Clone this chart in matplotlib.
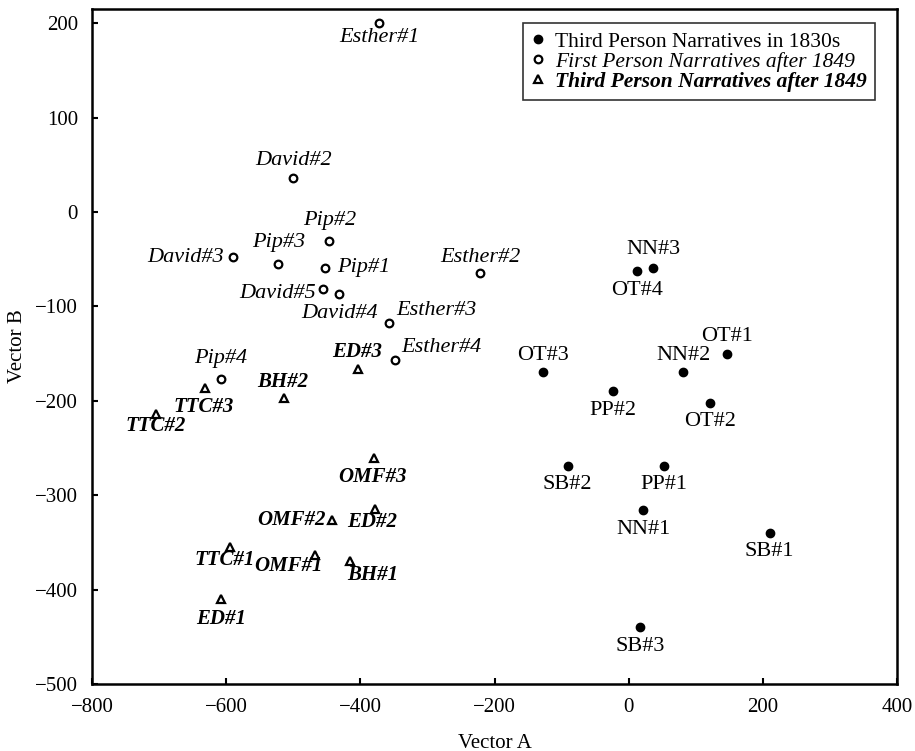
import matplotlib
matplotlib.use("Agg")
import matplotlib.pyplot as plt
from matplotlib.lines import Line2D

plt.rcParams['font.family'] = ['Liberation Serif', 'DejaVu Serif']

# Third person narratives in the 1830s (filled circles)
early_names = ["OT#1", "OT#2", "OT#3", "OT#4", "NN#1", "NN#2", "NN#3",
               "PP#1", "PP#2", "SB#1", "SB#2", "SB#3"]
early_x = [146, 121, -128, 13, 22, 81, 37, 53, -23, 210, -91, 17]
early_y = [-150, -202, -170, -63, -316, -170, -59, -269, -190, -340, -269, -440]

# First person narratives after 1849 (open circles)
first_names = ["Esther#1", "Esther#2", "Esther#3", "Esther#4", "David#2",
               "David#3", "David#4", "David#5", "Pip#1", "Pip#2", "Pip#3", "Pip#4"]
first_x = [-372, -221, -357, -349, -500, -590, -432, -455, -452, -446, -523, -608]
first_y = [200, -65, -118, -157, 36, -48, -87, -82, -59, -31, -55, -177]

# Third person narratives after 1849 (triangles)
late_names = ["ED#1", "ED#2", "ED#3", "BH#1", "BH#2", "TTC#1", "TTC#2",
              "TTC#3", "OMF#1", "OMF#2", "OMF#3"]
late_x = [-608, -378, -404, -415, -514, -594, -705, -632, -468, -442, -379]
late_y = [-410, -315, -166, -370, -197, -355, -214, -186, -363, -326, -261]

legend_labels = ["Third Person Narratives in 1830s",
                 "First Person Narratives after 1849",
                 "Third Person Narratives after 1849"]

# where each label sits next to its point: (dx, dy in pixels, ha)
place = {
    "OT#1": (0, 17, "center"), "OT#2": (0, -19, "center"),
    "OT#3": (0, 17, "center"), "OT#4": (0, -19, "center"),
    "NN#1": (0, -19, "center"), "NN#2": (0, 17, "center"),
    "NN#3": (0, 18, "center"), "PP#1": (0, -19, "center"),
    "PP#2": (0, -19, "center"), "SB#1": (0, -19, "center"),
    "SB#2": (0, -19, "center"), "SB#3": (0, -19, "center"),
    "Esther#1": (0, -14, "center"), "Esther#2": (0, 16, "center"),
    "Esther#3": (7, 13, "left"), "Esther#4": (7, 13, "left"),
    "David#2": (0, 17, "center"), "David#3": (-9, 0, "right"),
    "David#4": (1, -19, "center"), "David#5": (-8, -4, "right"),
    "Pip#1": (12, 0, "left"), "Pip#2": (0, 21, "center"),
    "Pip#3": (1, 21, "center"), "Pip#4": (0, 21, "center"),
    "ED#1": (0, -20, "center"), "ED#2": (-3, -13, "center"),
    "ED#3": (0, 17, "center"), "BH#1": (-3, -14, "left"),
    "BH#2": (-1, 16, "center"), "TTC#1": (-6, -13, "center"),
    "TTC#2": (0, -12, "center"), "TTC#3": (-1, -19, "center"),
    "OMF#1": (8, -11, "right"), "OMF#2": (-6, 0, "right"),
    "OMF#3": (-2, -19, "center"),
}

fig = plt.figure(figsize=(9.15, 7.51), dpi=100)
ax = fig.add_axes([92 / 915, 1 - 684 / 751, 805 / 915, 675 / 751])

ax.plot(early_x, early_y, 'o', color='black', markersize=6, zorder=3)
ax.plot(first_x, first_y, 'o', markerfacecolor='white', markeredgecolor='black',
        markeredgewidth=1.6, markersize=5.5, zorder=3)
ax.plot(late_x, late_y, '^', markerfacecolor='white', markeredgecolor='black',
        markeredgewidth=1.6, markersize=6, zorder=3)

px = 72 / 100.0


def put_labels(names, xs, ys, style, weight, size):
    for n, x, y in zip(names, xs, ys):
        dx, dy, ha = place[n]
        ax.annotate(n, (x, y), xytext=(dx * px, dy * px), textcoords='offset points',
                    ha=ha, va='center', fontsize=size, style=style, fontweight=weight)


put_labels(early_names, early_x, early_y, 'normal', 'normal', 16)
put_labels(first_names, first_x, first_y, 'italic', 'normal', 16)
put_labels(late_names, late_x, late_y, 'italic', 'bold', 15)

ax.set_xlim(-800, 400)
ax.set_ylim(-500, 215)
ax.set_xticks([-800, -600, -400, -200, 0, 200, 400])
ax.set_yticks([-500, -400, -300, -200, -100, 0, 100, 200])
ax.tick_params(direction='in', length=4, width=1.5, labelsize=15)
ax.tick_params(axis='x', pad=10)
ax.tick_params(axis='y', pad=10)
for s in ax.spines.values():
    s.set_linewidth(1.8)

ax.set_xlabel("Vector A", fontsize=15, labelpad=12)
ax.set_ylabel("Vector B", fontsize=15, labelpad=6)

handles = [
    Line2D([], [], ls='none', marker='o', color='black', markersize=6),
    Line2D([], [], ls='none', marker='o', markerfacecolor='white',
           markeredgecolor='black', markeredgewidth=1.6, markersize=5.5),
    Line2D([], [], ls='none', marker='^', markerfacecolor='white',
           markeredgecolor='black', markeredgewidth=1.6, markersize=6),
]
leg = ax.legend(handles, legend_labels, loc='upper right', fontsize=15.5,
                bbox_to_anchor=(875 / 915, 1 - 23 / 751),
                bbox_transform=fig.transFigure,
                frameon=True, fancybox=False, edgecolor='black',
                handlelength=0.6, handletextpad=0.45, labelspacing=0.0,
                borderpad=0.4, borderaxespad=0)
leg.get_frame().set_linewidth(1.2)
texts = leg.get_texts()
texts[1].set_style('italic')
texts[2].set_style('italic')
texts[2].set_fontweight('bold')

fig.savefig("out.png", dpi=100)
